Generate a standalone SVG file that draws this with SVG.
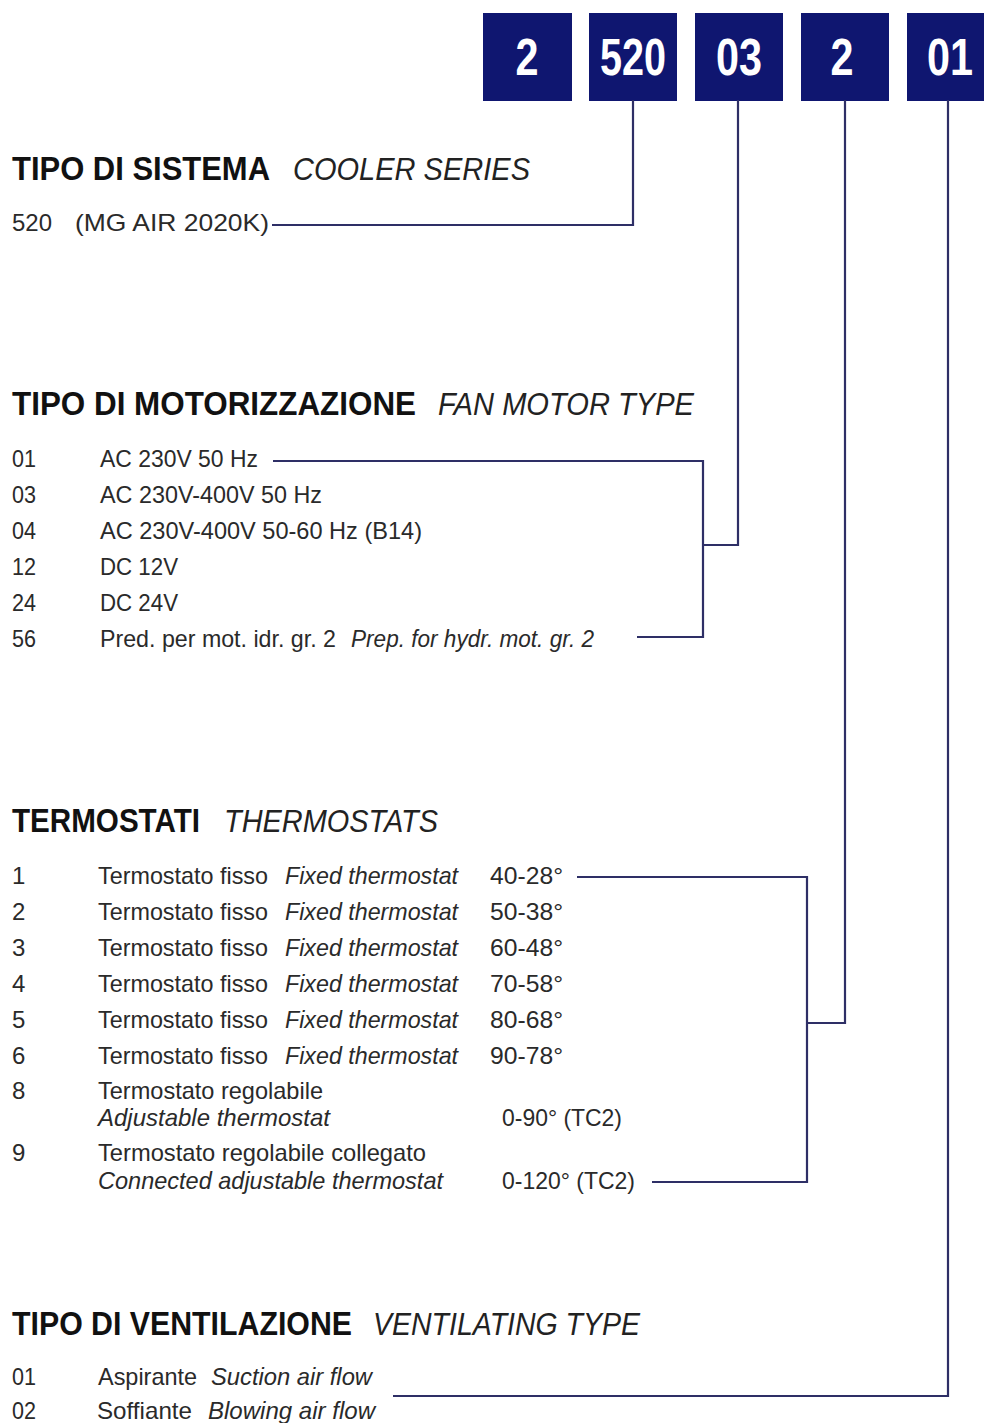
<svg xmlns="http://www.w3.org/2000/svg" width="984" height="1423" viewBox="0 0 984 1423">
<style>
text{font-family:"Liberation Sans",Arial,sans-serif}
.h{font-weight:bold;font-size:33px;fill:#111}
.hi{font-style:italic;font-size:32px;fill:#222}
.t{font-size:24px;fill:#2a2a2a}
.ti{font-size:24px;fill:#2a2a2a;font-style:italic}
.bx{fill:#0f1670}
.bt{font-weight:bold;font-size:52px;fill:#fff;text-anchor:middle}
.ln{stroke:#2e2f66;stroke-width:2.2;fill:none}
</style>
<rect width="984" height="1423" fill="#fff"/>
<g id="code">
<g id="box-2a"><rect class="bx" x="483" y="13" width="89" height="88"/><text class="bt" x="527" y="75" textLength="23" lengthAdjust="spacingAndGlyphs">2</text></g>
<g id="box-520"><rect class="bx" x="589" y="13" width="88" height="88"/><text class="bt" x="633" y="75" textLength="66" lengthAdjust="spacingAndGlyphs">520</text></g>
<g id="box-03"><rect class="bx" x="695" y="13" width="88" height="88"/><text class="bt" x="739" y="75" textLength="46" lengthAdjust="spacingAndGlyphs">03</text></g>
<g id="box-2b"><rect class="bx" x="801" y="13" width="88" height="88"/><text class="bt" x="842" y="75" textLength="23" lengthAdjust="spacingAndGlyphs">2</text></g>
<g id="box-01"><rect class="bx" x="907" y="13" width="88" height="88"/><text class="bt" x="950" y="75" textLength="46" lengthAdjust="spacingAndGlyphs">01</text></g>
</g>
<g id="connectors">
<path class="ln" d="M272 225 H633 V100"/>
<path class="ln" d="M273 461 H703 V637 H637 M703 545 H738 V100"/>
<path class="ln" d="M577 877 H807 V1182 H652 M807 1023 H845 V100"/>
<path class="ln" d="M393 1396 H948 V100"/>
</g>
<g id="sistema">
<text class="h" x="12" y="180" textLength="258" lengthAdjust="spacingAndGlyphs">TIPO DI SISTEMA</text>
<text class="hi" x="293" y="180" textLength="237" lengthAdjust="spacingAndGlyphs">COOLER SERIES</text>
<text class="t" x="12" y="231" textLength="40" lengthAdjust="spacingAndGlyphs">520</text>
<text class="t" x="75" y="231" textLength="194" lengthAdjust="spacingAndGlyphs">(MG AIR 2020K)</text>
</g>
<g id="motorizzazione">
<text class="h" x="12" y="415" textLength="404" lengthAdjust="spacingAndGlyphs">TIPO DI MOTORIZZAZIONE</text>
<text class="hi" x="438" y="415" textLength="256" lengthAdjust="spacingAndGlyphs">FAN MOTOR TYPE</text>
<text class="t" x="12" y="467" textLength="24" lengthAdjust="spacingAndGlyphs">01</text><text class="t" x="100" y="467" textLength="158" lengthAdjust="spacingAndGlyphs">AC 230V 50 Hz</text>
<text class="t" x="12" y="503" textLength="24" lengthAdjust="spacingAndGlyphs">03</text><text class="t" x="100" y="503" textLength="222" lengthAdjust="spacingAndGlyphs">AC 230V-400V 50 Hz</text>
<text class="t" x="12" y="539" textLength="24" lengthAdjust="spacingAndGlyphs">04</text><text class="t" x="100" y="539" textLength="322" lengthAdjust="spacingAndGlyphs">AC 230V-400V 50-60 Hz (B14)</text>
<text class="t" x="12" y="575" textLength="24" lengthAdjust="spacingAndGlyphs">12</text><text class="t" x="100" y="575" textLength="78" lengthAdjust="spacingAndGlyphs">DC 12V</text>
<text class="t" x="12" y="611" textLength="24" lengthAdjust="spacingAndGlyphs">24</text><text class="t" x="100" y="611" textLength="78" lengthAdjust="spacingAndGlyphs">DC 24V</text>
<text class="t" x="12" y="647" textLength="24" lengthAdjust="spacingAndGlyphs">56</text><text class="t" x="100" y="647" textLength="236" lengthAdjust="spacingAndGlyphs">Pred. per mot. idr. gr. 2</text>
<text class="ti" x="351" y="647" textLength="243" lengthAdjust="spacingAndGlyphs">Prep. for hydr. mot. gr. 2</text>
</g>
<g id="termostati">
<text class="h" x="12" y="832" textLength="188" lengthAdjust="spacingAndGlyphs">TERMOSTATI</text>
<text class="hi" x="224" y="832" textLength="214" lengthAdjust="spacingAndGlyphs">THERMOSTATS</text>
<text class="t" x="12" y="884">1</text><text class="t" x="98" y="884" textLength="170" lengthAdjust="spacingAndGlyphs">Termostato fisso</text><text class="ti" x="285" y="884" textLength="173" lengthAdjust="spacingAndGlyphs">Fixed thermostat</text><text class="t" x="490" y="884" textLength="73" lengthAdjust="spacingAndGlyphs">40-28°</text>
<text class="t" x="12" y="920">2</text><text class="t" x="98" y="920" textLength="170" lengthAdjust="spacingAndGlyphs">Termostato fisso</text><text class="ti" x="285" y="920" textLength="173" lengthAdjust="spacingAndGlyphs">Fixed thermostat</text><text class="t" x="490" y="920" textLength="73" lengthAdjust="spacingAndGlyphs">50-38°</text>
<text class="t" x="12" y="956">3</text><text class="t" x="98" y="956" textLength="170" lengthAdjust="spacingAndGlyphs">Termostato fisso</text><text class="ti" x="285" y="956" textLength="173" lengthAdjust="spacingAndGlyphs">Fixed thermostat</text><text class="t" x="490" y="956" textLength="73" lengthAdjust="spacingAndGlyphs">60-48°</text>
<text class="t" x="12" y="992">4</text><text class="t" x="98" y="992" textLength="170" lengthAdjust="spacingAndGlyphs">Termostato fisso</text><text class="ti" x="285" y="992" textLength="173" lengthAdjust="spacingAndGlyphs">Fixed thermostat</text><text class="t" x="490" y="992" textLength="73" lengthAdjust="spacingAndGlyphs">70-58°</text>
<text class="t" x="12" y="1028">5</text><text class="t" x="98" y="1028" textLength="170" lengthAdjust="spacingAndGlyphs">Termostato fisso</text><text class="ti" x="285" y="1028" textLength="173" lengthAdjust="spacingAndGlyphs">Fixed thermostat</text><text class="t" x="490" y="1028" textLength="73" lengthAdjust="spacingAndGlyphs">80-68°</text>
<text class="t" x="12" y="1064">6</text><text class="t" x="98" y="1064" textLength="170" lengthAdjust="spacingAndGlyphs">Termostato fisso</text><text class="ti" x="285" y="1064" textLength="173" lengthAdjust="spacingAndGlyphs">Fixed thermostat</text><text class="t" x="490" y="1064" textLength="73" lengthAdjust="spacingAndGlyphs">90-78°</text>
<text class="t" x="12" y="1099">8</text><text class="t" x="98" y="1099" textLength="225" lengthAdjust="spacingAndGlyphs">Termostato regolabile</text>
<text class="ti" x="98" y="1126" textLength="232" lengthAdjust="spacingAndGlyphs">Adjustable thermostat</text><text class="t" x="502" y="1126" textLength="120" lengthAdjust="spacingAndGlyphs">0-90° (TC2)</text>
<text class="t" x="12" y="1161">9</text><text class="t" x="98" y="1161" textLength="328" lengthAdjust="spacingAndGlyphs">Termostato regolabile collegato</text>
<text class="ti" x="98" y="1189" textLength="345" lengthAdjust="spacingAndGlyphs">Connected adjustable thermostat</text><text class="t" x="502" y="1189" textLength="133" lengthAdjust="spacingAndGlyphs">0-120° (TC2)</text>
</g>
<g id="ventilazione">
<text class="h" x="12" y="1335" textLength="340" lengthAdjust="spacingAndGlyphs">TIPO DI VENTILAZIONE</text>
<text class="hi" x="373" y="1335" textLength="267" lengthAdjust="spacingAndGlyphs">VENTILATING TYPE</text>
<text class="t" x="12" y="1385" textLength="24" lengthAdjust="spacingAndGlyphs">01</text><text class="t" x="98" y="1385" textLength="99" lengthAdjust="spacingAndGlyphs">Aspirante</text><text class="ti" x="211" y="1385" textLength="161" lengthAdjust="spacingAndGlyphs">Suction air flow</text>
<text class="t" x="12" y="1419" textLength="24" lengthAdjust="spacingAndGlyphs">02</text><text class="t" x="97" y="1419" textLength="95" lengthAdjust="spacingAndGlyphs">Soffiante</text><text class="ti" x="208" y="1419" textLength="167" lengthAdjust="spacingAndGlyphs">Blowing air flow</text>
</g>
</svg>
